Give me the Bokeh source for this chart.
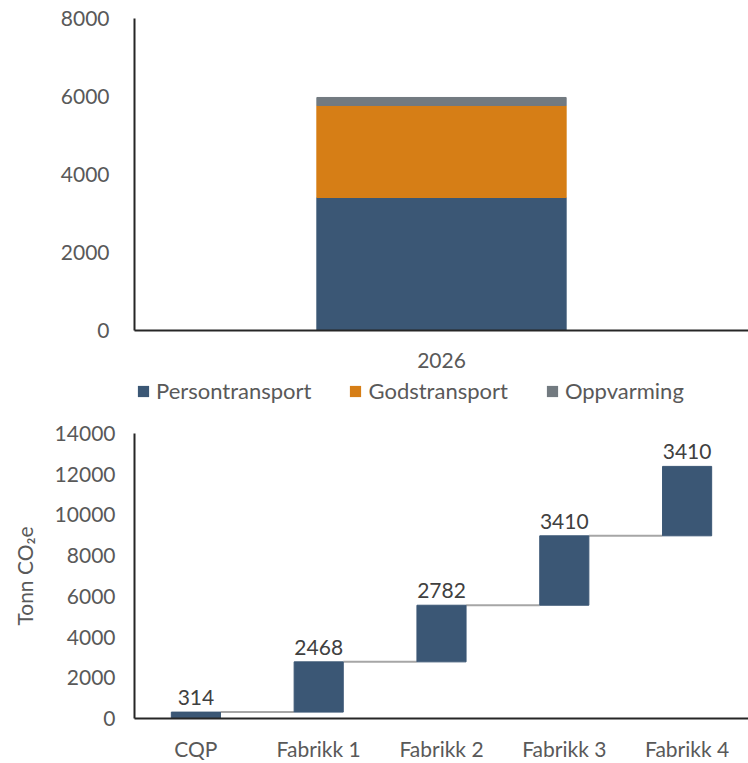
from bokeh.plotting import figure
from bokeh.models import Range1d, Legend, LegendItem, ColumnDataSource, FixedTicker
from bokeh.layouts import column
from bokeh.embed import file_html
from bokeh.resources import INLINE
from bokeh.core.properties import value
import numpy as np

# ---- data: top chart ----
years = ["2026"]
series = ["Persontransport", "Godstransport", "Oppvarming"]
persontransport = [3410]
godstransport = [2360]
oppvarming = [205]
colors = ["#3B5775", "#D67E16", "#727A80"]
y1_ticks = [0, 2000, 4000, 6000, 8000]

# ---- data: bottom (waterfall) chart ----
steps = ["CQP", "Fabrikk 1", "Fabrikk 2", "Fabrikk 3", "Fabrikk 4"]
increments = [314, 2468, 2782, 3410, 3410]
y2_ticks = [0, 2000, 4000, 6000, 8000, 10000, 12000, 14000]

FONT = "Lato"
FS = "21px"
TXT = "#595959"
AX = "#262626"
W = 748
LEFT = 134


def style(p):
    p.outline_line_color = None
    p.xgrid.grid_line_color = None
    p.ygrid.grid_line_color = None
    for ax in (p.xaxis[0], p.yaxis[0]):
        ax.major_tick_line_color = None
        ax.minor_tick_line_color = None
        ax.major_tick_out = 0
        ax.major_tick_in = 0
        ax.minor_tick_out = 0
        ax.minor_tick_in = 0
        ax.axis_line_color = AX
        ax.axis_line_width = 2
        ax.major_label_text_font = FONT
        ax.major_label_text_font_size = FS
        ax.major_label_text_color = TXT


# ---- top chart ----
p1 = figure(width=W, height=376, x_range=Range1d(-0.5, 0.5), y_range=Range1d(0, 8000),
            output_backend="svg", toolbar_location=None,
            min_border_left=LEFT, min_border_right=0, min_border_top=18, min_border_bottom=46)
style(p1)
src1 = ColumnDataSource(dict(x=[0], Persontransport=persontransport,
                             Godstransport=godstransport, Oppvarming=oppvarming))
rs = p1.vbar_stack(series, x="x", width=0.406, fill_color=colors, line_color=colors, source=src1)
p1.yaxis.ticker = FixedTicker(ticks=y1_ticks)
p1.yaxis.major_label_standoff = 25
p1.xaxis.ticker = FixedTicker(ticks=[0])
p1.xaxis.major_label_overrides = {0: years[0]}
p1.xaxis.major_label_standoff = 22

# ---- legend strip (own small figure, legend inside its frame) ----
pl = figure(width=W, height=30, x_range=Range1d(0, 1), y_range=Range1d(10000, 10001),
            output_backend="svg", toolbar_location=None,
            x_axis_location=None, y_axis_location=None,
            min_border_left=LEFT, min_border_right=0, min_border_top=0, min_border_bottom=0)
pl.grid.visible = False
pl.outline_line_color = None
# same values, outside this strip's visible range: only the legend swatches show
lsrc = ColumnDataSource(dict(x=[-10], Persontransport=persontransport,
                             Godstransport=godstransport, Oppvarming=oppvarming))
lrs = pl.vbar_stack(series, x="x", width=0.4, fill_color=colors, line_color=None, source=lsrc)
legend = Legend(items=[LegendItem(label=s, renderers=[r]) for s, r in zip(series, lrs)],
                orientation="horizontal", location=(2, 2))
legend.glyph_width = 14
legend.glyph_height = 14
legend.label_standoff = 6
legend.spacing = 37
legend.padding = 0
legend.margin = 0
legend.border_line_color = None
legend.background_fill_alpha = 0
legend.label_text_font = FONT
legend.label_text_font_size = "22px"
legend.label_text_color = TXT
pl.add_layout(legend, "center")

# ---- bottom chart (waterfall) ----
xs = np.arange(len(steps))
inc = np.array(increments)
cum = np.cumsum(inc)
bottoms = cum - inc

p2 = figure(width=W, height=357, x_range=Range1d(-0.5, len(steps) - 0.5), y_range=Range1d(0, 14000),
            output_backend="svg", toolbar_location=None,
            min_border_left=LEFT, min_border_right=0, min_border_top=27, min_border_bottom=43)
style(p2)
bw = 0.4
p2.segment(x0=xs[:-1] + bw / 2, y0=cum[:-1], x1=xs[1:] - bw / 2, y1=cum[:-1],
           line_color="#A6A6A6", line_width=2)
p2.vbar(x=xs, bottom=bottoms, top=cum, width=bw, fill_color=colors[0], line_color=colors[0])
p2.text(x=xs, y=cum, text=[str(v) for v in increments], text_align="center", text_baseline="bottom",
        y_offset=-7, text_font=value(FONT), text_font_size=FS, text_color="#404040")
p2.yaxis.ticker = FixedTicker(ticks=y2_ticks)
p2.yaxis.major_label_standoff = 19
p2.yaxis.axis_label = "Tonn CO₂e"
p2.yaxis.axis_label_text_font = FONT
p2.yaxis.axis_label_text_font_size = FS
p2.yaxis.axis_label_text_font_style = "normal"
p2.yaxis.axis_label_text_color = TXT
p2.yaxis.axis_label_standoff = 15
p2.xaxis.ticker = FixedTicker(ticks=list(xs))
p2.xaxis.major_label_overrides = {int(i): s for i, s in zip(xs, steps)}
p2.xaxis.major_label_standoff = 17

layout = column(p1, pl, p2, spacing=0)
open("out.html", "w").write(file_html(layout, INLINE))
